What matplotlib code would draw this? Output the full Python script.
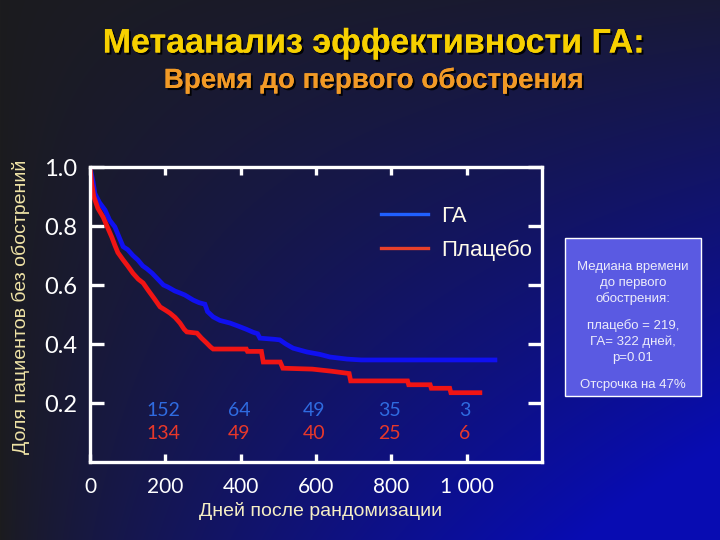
import numpy as np
import matplotlib
matplotlib.use("Agg")
import matplotlib.pyplot as plt
from matplotlib.lines import Line2D
from matplotlib.patches import Rectangle
import matplotlib.patheffects as pe

# Kaplan-Meier curves (days, share without relapse)
ga_days = [0, 8, 13, 25, 40, 52, 66, 78, 88, 100, 114, 127, 140, 151, 165, 180,
           195, 207, 225, 239, 252, 274, 290, 305, 312, 327, 345, 372, 395, 415,
           433, 445, 451, 490, 504, 520, 539, 576, 610, 637, 682, 720, 1075]
ga_surv = [1.0, 0.95, 0.91, 0.88, 0.854, 0.82, 0.797, 0.76, 0.73, 0.72, 0.70,
           0.685, 0.665, 0.655, 0.64, 0.62, 0.60, 0.593, 0.58, 0.573, 0.566,
           0.549, 0.54, 0.535, 0.51, 0.492, 0.48, 0.471, 0.46, 0.45, 0.44,
           0.435, 0.42, 0.416, 0.414, 0.40, 0.386, 0.373, 0.365, 0.356, 0.349,
           0.346, 0.346]

pl_days = [0, 5, 10, 21, 35, 45, 58, 66, 74, 88, 100, 114, 128, 141, 154, 170,
           186, 200, 212, 226, 239, 250, 257, 284, 296, 310, 320, 327, 415, 418,
           455, 460, 505, 512, 590, 640, 688, 692, 843, 846, 903, 906, 955, 958,
           1035]
pl_surv = [1.0, 0.94, 0.90, 0.86, 0.83, 0.80, 0.762, 0.735, 0.71, 0.685, 0.665,
           0.64, 0.62, 0.607, 0.583, 0.555, 0.526, 0.515, 0.505, 0.49, 0.471,
           0.45, 0.441, 0.437, 0.42, 0.403, 0.39, 0.383, 0.383, 0.375, 0.375,
           0.339, 0.339, 0.318, 0.315, 0.308, 0.30, 0.275, 0.275, 0.262, 0.262,
           0.25, 0.25, 0.235, 0.235]

# patients at risk
risk_days = [200, 400, 600, 800, 1000]
risk_ga = [152, 64, 49, 35, 3]
risk_pl = [134, 49, 40, 25, 6]

x_ticks = [0, 200, 400, 600, 800, 1000]
y_ticks = [0.2, 0.4, 0.6, 0.8, 1.0]

box_lines = ["Медиана времени", "до первого", "обострения:", "",
             "плацебо = 219,", "ГА= 322 дней,", "р=0.01", "", "Отсрочка на 47%"]

fig = plt.figure(figsize=(7.2, 5.4), dpi=100)

# slide background: dark grey top-left to blue bottom-right
bg = fig.add_axes([0, 0, 1, 1], zorder=-10)
xx, yy = np.meshgrid(np.linspace(0, 1, 720), np.linspace(0, 1, 540))
t = np.clip(xx ** 0.75 * (0.15 + 0.9 * yy) * 1.12, 0, 1)
c0 = np.array([28, 28, 30]) / 255.0
c1 = np.array([8, 12, 178]) / 255.0
img = c0[None, None, :] * (1 - t[..., None]) + c1[None, None, :] * t[..., None]
bg.imshow(img, aspect="auto", extent=[0, 1, 0, 1], origin="upper")
bg.axis("off")

ax = fig.add_axes([0.125, 0.1444, 0.6278, 0.5463])
ax.set_facecolor("none")

ax.plot(ga_days, ga_surv, color="#1010f0", lw=3.4, solid_joinstyle="miter")
ax.plot(pl_days, pl_surv, color="#f01414", lw=3.4, solid_joinstyle="miter")

for d, a, b in zip(risk_days, risk_ga, risk_pl):
    ax.text(d - 5, 0.173, str(a), ha="center", va="center", color="#2f6be0",
            fontsize=14, family="Lato")
    ax.text(d - 5, 0.095, str(b), ha="center", va="center", color="#e8382a",
            fontsize=14, family="Lato")

ax.set_xlim(0, 1200)
ax.set_ylim(0, 1.0)
ax.set_xticks(x_ticks)
ax.set_xticklabels([str(v) if v < 1000 else "1 000" for v in x_ticks])
ax.set_yticks(y_ticks)
ax.set_yticklabels(["%.1f" % v for v in y_ticks])

for s in ax.spines.values():
    s.set_color("white")
    s.set_linewidth(2.4)

ax.tick_params(axis="y", which="both", direction="in", length=10, width=2.4,
               colors="white", left=True, right=True, pad=9, labelsize=17)
ax.tick_params(axis="x", which="both", direction="in", length=6, width=2.4,
               colors="white", top=True, bottom=True, pad=11, labelsize=15)
for lab in ax.get_xticklabels() + ax.get_yticklabels():
    lab.set_family("Lato")

ax.set_ylabel("Доля пациентов без обострений", color="#efe3a6", fontsize=14,
              family="Liberation Sans")
ax.yaxis.set_label_coords(-0.133, 0.525)
ax.set_xlabel("Дней после рандомизации", color="#f5eec4", fontsize=14,
              family="Liberation Sans")
ax.xaxis.set_label_coords(0.509, -0.135)

handles = [Line2D([], [], color="#2060ff", lw=2.4),
           Line2D([], [], color="#e8402a", lw=2.4)]
leg = ax.legend(handles, ["ГА", "Плацебо"], loc="upper left",
                bbox_to_anchor=(0.62, 0.907), frameon=False, borderpad=0,
                handlelength=2.1, handletextpad=0.6, labelspacing=0.6,
                prop={"family": "Liberation Sans", "size": 16})
for txt in leg.get_texts():
    txt.set_color("#fffbea")

# titles
shadow = [pe.withSimplePatchShadow(offset=(1.5, -1.5), shadow_rgbFace="black",
                                   alpha=0.9), pe.Normal()]
fig.text(0.519, 0.9185, "Метаанализ эффективности ГА:", ha="center",
         va="center", color="#f7d000", fontsize=24.5, fontweight="bold",
         family="Liberation Sans", path_effects=shadow)
fig.text(0.519, 0.8505, "Время до первого обострения", ha="center",
         va="center", color="#f29a26", fontsize=20, fontweight="bold",
         family="Liberation Sans", path_effects=shadow)

# info box on the right
fig.patches.append(Rectangle((0.7847, 0.2667), 0.189, 0.2926,
                             transform=fig.transFigure, facecolor="#5a5ae2",
                             edgecolor="white", lw=1.0, zorder=2))
line_y = 1 - 267 / 540.0
for ln in box_lines:
    if ln:
        fig.text(0.879, line_y, ln, ha="center", va="center", color="#ececfa",
                 fontsize=9.5, family="Liberation Sans", zorder=3)
        line_y -= 16 / 540.0
    else:
        line_y -= 11 / 540.0

fig.savefig("out.png", dpi=100)
